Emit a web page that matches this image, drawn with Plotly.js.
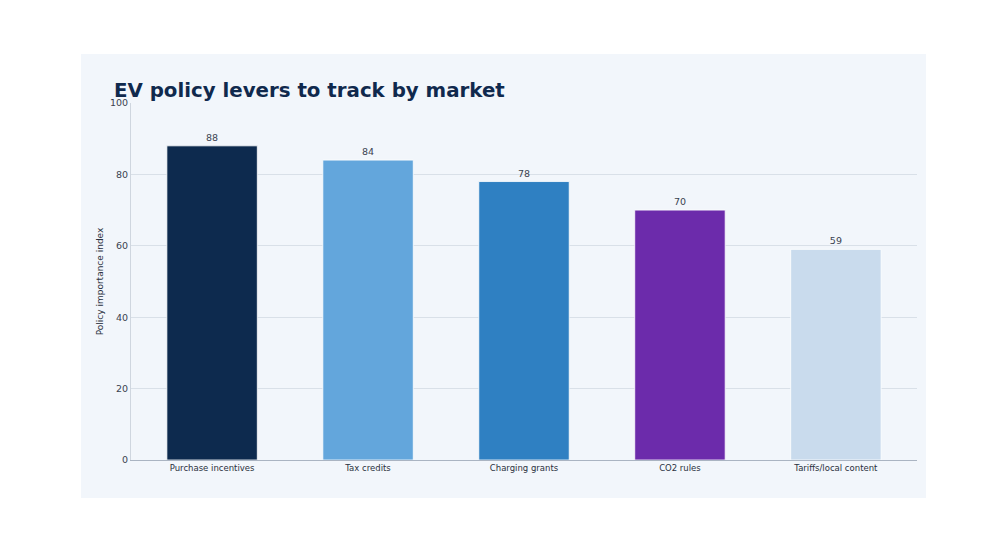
<!DOCTYPE html>
<html>
<head>
<meta charset="utf-8">
<script src="https://cdn.plot.ly/plotly-3.0.1.min.js"></script>
<style>
html,body{margin:0;padding:0;background:#ffffff;}
#chart{position:absolute;left:81px;top:54px;width:845px;height:444px;}
</style>
</head>
<body>
<div id="chart"></div>
<script>
const categories = ["Purchase incentives", "Tax credits", "Charging grants", "CO2 rules", "Tariffs/local content"];
const values = [88, 84, 78, 70, 59];
const barColors = ["#0d2a4e", "#63a6dc", "#2f80c2", "#6c2bab", "#c9dbed"];
const tickVals = [0, 20, 40, 60, 80, 100];

const trace = {
  type: "bar",
  x: categories,
  y: values,
  text: values.map(String),
  textposition: "outside",
  cliponaxis: false,
  textfont: {family: "DejaVu Sans", size: 9.5, color: "#3a4250"},
  marker: {color: barColors, line: {color: "#ffffff", width: 0.8}},
  hoverinfo: "x+y"
};

const layout = {
  width: 845,
  height: 444,
  margin: {l: 50, r: 9, t: 49, b: 38},
  paper_bgcolor: "#f2f6fb",
  plot_bgcolor: "#f2f6fb",
  font: {family: "DejaVu Sans", size: 10, color: "#2a3140"},
  title: {
    text: "<b>EV policy levers to track by market</b>",
    x: 0.039, xanchor: "left",
    y: 0.918, yanchor: "middle",
    font: {family: "DejaVu Sans", size: 19.8, color: "#10294d"}
  },
  bargap: 0.42,
  showlegend: false,
  xaxis: {
    range: [-0.52, 4.52],
    showgrid: false,
    showline: true,
    linecolor: "#aab4c2",
    linewidth: 1,
    ticks: "",
    tickfont: {size: 8.5, color: "#2a3140"}
  },
  yaxis: {
    range: [0, 100],
    tickvals: tickVals,
    showgrid: true,
    gridcolor: "#d9e0e8",
    gridwidth: 1,
    zeroline: false,
    showline: true,
    linecolor: "#cfd6df",
    linewidth: 1,
    ticks: "",
    ticklen: 0,
    tickfont: {size: 9.5, color: "#3a4250"},
    title: {text: "Policy importance index", font: {size: 9, color: "#2a3140"}, standoff: 4}
  }
};

Plotly.newPlot("chart", [trace], layout, {displayModeBar: false, responsive: false});
</script>
</body>
</html>
